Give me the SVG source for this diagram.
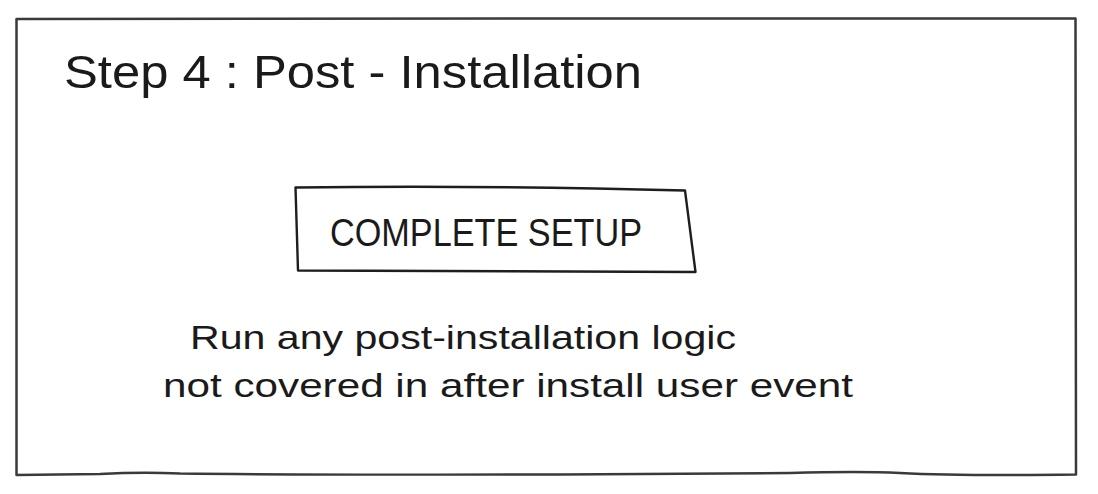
<svg xmlns="http://www.w3.org/2000/svg" width="1098" height="494" viewBox="0 0 1098 494">
<style>
.frame{fill:none;stroke:#3a3a3a;stroke-width:2.5;stroke-linejoin:round}
.box{fill:none;stroke:#1e1e1e;stroke-width:2.4;stroke-linejoin:round}
.t{font-family:"Liberation Sans","DejaVu Sans",sans-serif;fill:#1a1a1a}
</style>
<rect width="1098" height="494" fill="#ffffff"/>
<g id="frame">
<path class="frame" d="M16.5 19 Q300 18 560 18.5 L1075.5 18.5 L1076 474.5 Q960 476 900 473 Q860 471 790 473 L560 474.5 Q300 475 180 473.5 Q140 472 100 474 L16.5 475 Z"/>
</g>
<g id="title">
<text class="t" x="64" y="88" font-size="46" textLength="578" lengthAdjust="spacingAndGlyphs">Step 4 : Post - Installation</text>
</g>
<g id="complete-setup">
<path class="box" d="M295.5 187.5 Q480 185 685 190.5 L695.5 272 Q500 270.5 298 270.5 Z"/>
<text class="t" x="330" y="246" font-size="38" textLength="312" lengthAdjust="spacingAndGlyphs">COMPLETE SETUP</text>
</g>
<g id="description">
<text class="t" x="190" y="349" font-size="34" textLength="546" lengthAdjust="spacingAndGlyphs">Run any post-installation logic</text>
<text class="t" x="163" y="397" font-size="34" textLength="690" lengthAdjust="spacingAndGlyphs">not covered in after install user event</text>
</g>
<g id="connectors"></g>
</svg>
